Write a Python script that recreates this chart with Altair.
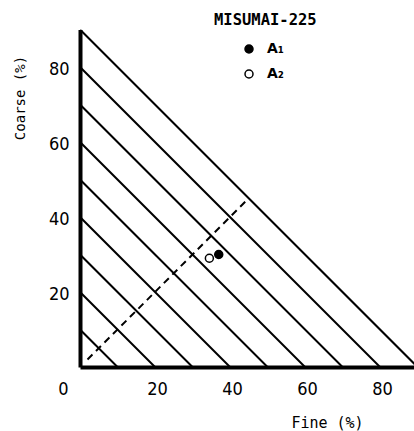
import altair as alt
import pandas as pd

# ---- data ----
levels = [10, 20, 30, 40, 50, 60, 70, 80, 90]          # iso-lines Fine + Coarse = k
series = ["A₁", "A₂"]
fine_pts = [37.0, 34.5]
coarse_pts = [30.0, 29.0]
diag_fine = [2, 45]
diag_coarse = [2, 45]
x_ticks = [0, 20, 40, 60, 80]
y_ticks = [20, 40, 60, 80]

rows = []
for k in levels:
    rows.append({"k": k, "fine": 0, "coarse": k})
    rows.append({"k": k, "fine": k, "coarse": 0})
iso = pd.DataFrame(rows)
pts = pd.DataFrame({"series": series, "fine": fine_pts, "coarse": coarse_pts})
diag = pd.DataFrame({"fine": diag_fine, "coarse": diag_coarse})

LABEL_FONT = "Liberation Sans Narrow, DejaVu Sans Condensed, Liberation Sans"
MONO = "DejaVu Sans Mono"

xscale = alt.Scale(domain=[0, 89.07], nice=False, zero=False)
yscale = alt.Scale(domain=[0, 90], nice=False, zero=False)

xaxis = alt.Axis(
    title="Fine (%)", values=x_ticks, grid=False, ticks=False,
    domainColor="black", domainWidth=4,
    labelFont=LABEL_FONT, labelFontSize=18, labelColor="black",
    labelPadding=13, labelFlush=False,
    labelOffset={"condition": {"test": "datum.value === 0", "value": -17}, "value": 2},
    titleFont=MONO, titleFontSize=15, titleFontWeight="normal", titleColor="black",
    titleX=247, titleY=55, titleAlign="center", titleBaseline="middle",
)
yaxis = alt.Axis(
    title="Coarse (%)", values=y_ticks, grid=False, ticks=False,
    domainColor="black", domainWidth=4,
    labelFont=LABEL_FONT, labelFontSize=18, labelColor="black",
    labelPadding=11, labelOffset=2,
    titleFont=MONO, titleFontSize=14, titleFontWeight="normal", titleColor="black",
    titleX=-60, titleY=68, titleAngle=-90, titleAlign="center", titleBaseline="middle",
)

lines = alt.Chart(iso).mark_line(color="black", strokeWidth=2, clip=True).encode(
    x=alt.X("fine:Q", scale=xscale, axis=xaxis),
    y=alt.Y("coarse:Q", scale=yscale, axis=yaxis),
    detail="k:N",
)

dashed = alt.Chart(diag).mark_line(color="black", strokeWidth=2, strokeDash=[7, 5]).encode(
    x=alt.X("fine:Q", scale=xscale),
    y=alt.Y("coarse:Q", scale=yscale),
)

points = alt.Chart(pts).mark_point(
    filled=True, shape="circle", size=64, stroke="black", strokeWidth=1.5, opacity=1
).encode(
    x=alt.X("fine:Q", scale=xscale),
    y=alt.Y("coarse:Q", scale=yscale),
    fill=alt.Fill(
        "series:N",
        scale=alt.Scale(domain=series, range=["black", "white"]),
        legend=alt.Legend(
            title="MISUMAI-225", orient="none", legendX=134, legendY=-17,
            padding=0, titleFont=MONO, titleFontSize=15.5, titleFontWeight="bold",
            titleColor="black", titlePadding=14,
            labelFont="DejaVu Sans", labelFontSize=14, labelFontWeight="bold",
            labelColor="black", symbolType="circle", symbolSize=64,
            symbolStrokeColor="black", symbolStrokeWidth=1.5,
            symbolOffset=28, labelOffset=11, rowPadding=11,
        ),
    ),
)

chart = alt.layer(lines, dashed, points).properties(
    width=334, height=337.5,
    autosize=alt.AutoSizeParams(type="none"),
    padding={"left": 80, "top": 29.5, "right": 0, "bottom": 64},
    background="white",
).configure_view(stroke=None)

chart.save("out.html", embed_options={"renderer": "svg", "actions": False})
